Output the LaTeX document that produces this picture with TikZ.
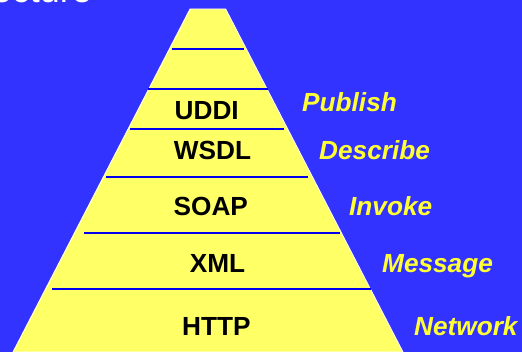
\documentclass[tikz,border=0pt]{standalone}
\usepackage{fontspec}
\setmainfont{Liberation Sans}
\usetikzlibrary{positioning}
\definecolor{slideblue}{HTML}{3333FF}
\definecolor{pyryellow}{HTML}{FFFF66}
\definecolor{verbyellow}{HTML}{FFFF33}
\definecolor{sepblue}{HTML}{0000EE}

\begin{document}
\begin{tikzpicture}[x=1pt, y=-1pt,
	layer/.style={font=\fontsize{26.2}{30}\selectfont\bfseries, anchor=base, inner sep=0pt},
	verb/.style={font=\fontsize{26.2}{30}\selectfont\bfseries\itshape, text=verbyellow, anchor=base west, inner sep=0pt},
	sep/.style={draw=sepblue, line width=2pt}]
		\fill[slideblue] (0,0) rectangle (522,352);
		\useasboundingbox (0,0) rectangle (522,352);
		\node[font=\fontsize{36}{40}\selectfont, text=white, anchor=base east, inner sep=0pt] (title) at (92,3) {Architecture};
		% the stack
		\filldraw[fill=pyryellow, draw=white, line width=0.8pt] (190,9) -- (225.7,9) -- (403,352) -- (13,352) -- cycle;
		\foreach \y/\l/\r in {49.3/171.7/244, 89.3/148/267.7, 129.3/130/284, 177.3/106/308, 233.3/84/340, 289/52/371}
			\draw[sep] (\l,\y) -- (\r,\y);
		\node[layer] (uddi) at (206.7,119.3) {UDDI};
		\node[layer] (wsdl) at (212.5,159.3) {WSDL};
		\node[layer] (soap) at (210.8,216) {SOAP};
		\node[layer] (xml)  at (217.5,272.3) {XML};
		\node[layer] (http) at (216.3,336) {HTTP};
		% what each layer does
		\node[verb] (publish)  at (302,111.7) {Publish};
		\node[verb] (describe) at (319,160) {Describe};
		\node[verb] (invoke)   at (349,216) {Invoke};
		\node[verb] (message)  at (382,272.3) {Message};
		\node[verb] (network)  at (414,336) {Network};
	\end{tikzpicture}
\end{document}
